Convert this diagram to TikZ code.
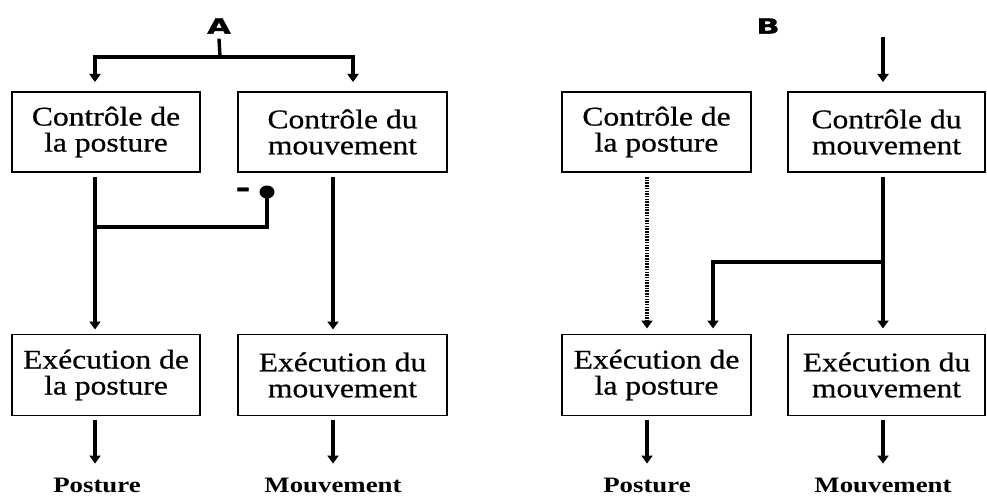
\documentclass[tikz,border=0pt]{standalone}
\usepackage{fontspec}
\setmainfont{Liberation Serif}
\newfontfamily\boxfont[FakeStretch=1.17,FakeBold=0.6]{Liberation Serif}
\newfontfamily\lblfont[FakeStretch=1.22]{Liberation Serif}
\newfontfamily\headfont[FakeStretch=1.45,FakeBold=1.5]{DejaVu Sans}
\usetikzlibrary{arrows.meta,calc,shapes.geometric}
\tikzset{
  box/.style={draw, line width=1.7pt, inner sep=0pt, outer sep=0pt, align=center,
    font=\boxfont\fontsize{27}{26}\selectfont},
  lbl/.style={inner sep=0pt, outer sep=0pt, anchor=base,
    font=\lblfont\bfseries\fontsize{22}{22}\selectfont},
  head/.style={inner sep=0pt, outer sep=0pt, font=\headfont\bfseries\fontsize{21}{21}\selectfont},
  conn/.style={line width=3.4pt},
  arr/.style={-{Triangle[width=11pt,length=8pt]}},
  dotline/.style={line width=3.4pt, dash pattern=on 1.5pt off 1.2pt}
}
\begin{document}
\begin{tikzpicture}[x=1pt,y=-1pt]
\useasboundingbox (0,0) rectangle (987,500);
% ---------- Panel A ----------
\node[head] (hA) at (219,26) {A};
\node[box, minimum width=188, minimum height=80] (cpA) at (106,132) {Contrôle de\\la posture};
\node[box, minimum width=209, minimum height=80] (cmA) at (342.5,132) {Contrôle du\\mouvement};
\node[box, minimum width=188, minimum height=81] (epA) at (106,375) {Exécution de\\la posture};
\node[box, minimum width=209, minimum height=81] (emA) at (342.5,375) {Exécution du\\mouvement};
\node[lbl] (lpA) at (97,492) {Posture};
\node[lbl] (lmA) at (333,492) {Mouvement};
\coordinate (tA) at (220,57);
\coordinate (tAl) at (95,57);
\coordinate (tAr) at (353,57);
\coordinate (xA1) at (95,0);
\coordinate (xA2) at (333,0);
\draw[conn] ([yshift=-5pt]hA.south) -- (tA);
\draw[conn,arr,shorten >=10pt] (tA) -- (tAl) -- (tAl |- cpA.north);
\draw[conn,arr,shorten >=10pt] (tA) -- (tAr) -- (tAr |- cmA.north);
\draw[conn,arr,shorten <=5pt,shorten >=5pt] (cpA.south -| xA1) -- (epA.north -| xA1);
\draw[conn,arr,shorten <=5pt,shorten >=5pt] (cmA.south -| xA2) -- (emA.north -| xA2);
% inhibition
\node[ellipse, fill, inner sep=0pt, minimum width=15, minimum height=13] (inh) at (267,192) {};
\node[head, font=\headfont\bfseries\fontsize{24}{24}\selectfont] (minus) at (243,192) {-};
\coordinate (jA) at (95,227);
\draw[conn] (inh.center) |- (jA);
\draw[conn,arr,shorten <=4pt,shorten >=14pt] (epA.south -| xA1) -- (lpA.north -| xA1);
\draw[conn,arr,shorten <=4pt,shorten >=14pt] (emA.south -| xA2) -- (lmA.north -| xA2);
% ---------- Panel B ----------
\node[head] (hB) at (768,26) {B};
\node[box, minimum width=189, minimum height=80] (cpB) at (656.5,132) {Contrôle de\\la posture};
\node[box, minimum width=197, minimum height=80] (cmB) at (886.5,132) {Contrôle du\\mouvement};
\node[box, minimum width=189, minimum height=81] (epB) at (656.5,375) {Exécution de\\la posture};
\node[box, minimum width=197, minimum height=81] (emB) at (886.5,375) {Exécution du\\mouvement};
\node[lbl] (lpB) at (647,492) {Posture};
\node[lbl] (lmB) at (883,492) {Mouvement};
\coordinate (xB1) at (647,0);
\coordinate (xB2) at (883,0);
\coordinate (xB3) at (713,0);
\coordinate (inB) at (883,37);
\coordinate (jB) at (883,262);
\coordinate (jB2) at (713,262);
\draw[conn,arr,shorten >=10pt] (inB) -- (inB |- cmB.north);
\draw[dotline,arr,shorten <=5pt,shorten >=6pt] (cpB.south -| xB1) -- (epB.north -| xB1);
\draw[conn,arr,shorten <=5pt,shorten >=6pt] (cmB.south -| xB2) -- (emB.north -| xB2);
\draw[conn,arr,shorten >=6pt] (jB) -- (jB2) -- (epB.north -| xB3);
\draw[conn,arr,shorten <=4pt,shorten >=14pt] (epB.south -| xB1) -- (lpB.north -| xB1);
\draw[conn,arr,shorten <=4pt,shorten >=14pt] (emB.south -| xB2) -- (lmB.north -| xB2);
\end{tikzpicture}
\end{document}
